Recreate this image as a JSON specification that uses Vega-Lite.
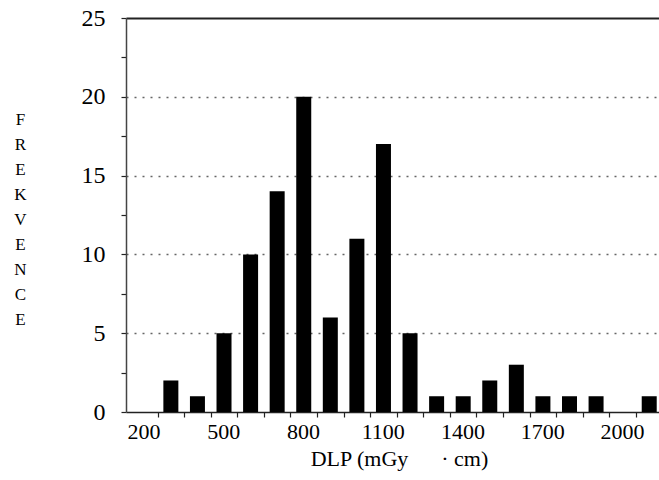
{
  "$schema": "https://vega.github.io/schema/vega-lite/v6.json",
  "width": 533,
  "height": 394,
  "autosize": {"type": "none"},
  "padding": {"left": 126, "top": 18, "right": 0, "bottom": 68},
  "background": "white",
  "config": {"view": {"stroke": null}, "font": "Liberation Serif", "axis": {"labelFont": "Liberation Serif", "titleFont": "Liberation Serif"}},
  "data": {
    "values": [
      {"dlp": 250, "count": 2},
      {"dlp": 350, "count": 1},
      {"dlp": 450, "count": 5},
      {"dlp": 550, "count": 10},
      {"dlp": 650, "count": 14},
      {"dlp": 750, "count": 20},
      {"dlp": 850, "count": 6},
      {"dlp": 950, "count": 11},
      {"dlp": 1050, "count": 17},
      {"dlp": 1150, "count": 5},
      {"dlp": 1250, "count": 1},
      {"dlp": 1350, "count": 1},
      {"dlp": 1450, "count": 2},
      {"dlp": 1550, "count": 3},
      {"dlp": 1650, "count": 1},
      {"dlp": 1750, "count": 1},
      {"dlp": 1850, "count": 1},
      {"dlp": 1950, "count": 0},
      {"dlp": 2050, "count": 1}
    ]
  },
  "mark": {"type": "bar", "size": 15, "color": "black", "clip": true},
  "encoding": {
    "x": {
      "field": "dlp",
      "type": "quantitative",
      "scale": {"domain": [100, 2068], "nice": false, "zero": false},
      "axis": {
        "values": [200, 300, 400, 500, 600, 700, 800, 900, 1000, 1100, 1200, 1300, 1400, 1500, 1600, 1700, 1800, 1900, 2000],
        "format": "d",
        "labelExpr": "(datum.value - 200) % 300 === 0 ? datum.label : ''",
        "labelFont": "Liberation Serif",
        "labelFontSize": 22,
        "labelColor": "black",
        "labelOffset": -14,
        "labelPadding": 4,
        "labelFlush": false,
        "labelOverlap": false,
        "tickSize": 5,
        "tickColor": "#222",
        "tickWidth": 1.2,
        "domainColor": "#222",
        "domainWidth": 1.5,
        "grid": false,
        "title": "DLP (mGy\u00a0\u00a0\u00a0\u00a0\u00a0\u00a0· cm)",
        "titleFont": "Liberation Serif",
        "titleFontSize": 22,
        "titleFontWeight": "normal",
        "titleColor": "black",
        "titleX": 273,
        "titleY": 53,
        "titleBaseline": "alphabetic",
        "titleAlign": "center"
      }
    },
    "y": {
      "field": "count",
      "type": "quantitative",
      "scale": {"domain": [0, 25], "nice": false},
      "axis": {
        "values": [0, 2.5, 5, 7.5, 10, 12.5, 15, 17.5, 20, 22.5, 25],
        "labelExpr": "datum.value % 5 === 0 ? datum.label : ''",
        "labelFont": "Liberation Serif",
        "labelFontSize": 24,
        "labelColor": "black",
        "labelPadding": 16,
        "labelFlush": false,
        "labelOverlap": false,
        "tickSize": 5,
        "tickColor": "#222",
        "tickWidth": 1.2,
        "domainColor": "#444",
        "domainWidth": 1.5,
        "grid": true,
        "gridDash": {"condition": {"test": "datum.value === 25", "value": []}, "value": [2, 6]},
        "gridColor": {"condition": {"test": "datum.value === 25", "value": "#222"}, "value": "#666"},
        "gridWidth": {"condition": {"test": "datum.value === 25", "value": 2}, "value": 1.3},
        "gridOpacity": {"condition": {"test": "datum.value % 5 === 0 && datum.value > 0", "value": 1}, "value": 0},
        "title": ["F", "R", "E", "K", "V", "E", "N", "C", "E"],
        "titleFont": "Liberation Serif",
        "titleAngle": 0,
        "titleAlign": "center",
        "titleBaseline": "top",
        "titleX": -106,
        "titleY": 93,
        "titleFontSize": 17,
        "titleFontWeight": "normal",
        "titleColor": "black",
        "titleLineHeight": 25
      }
    }
  }
}
